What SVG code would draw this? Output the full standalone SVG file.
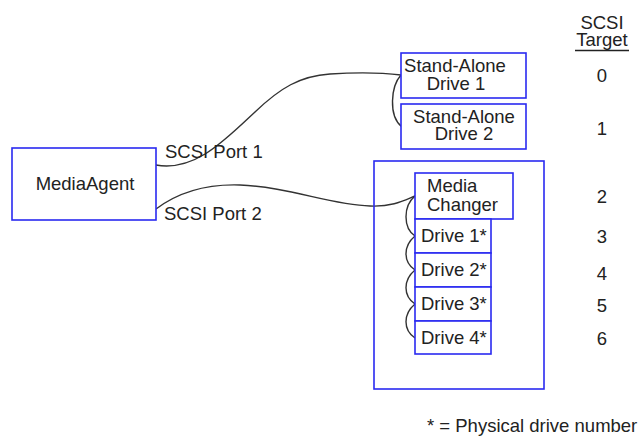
<svg xmlns="http://www.w3.org/2000/svg" width="640" height="439" viewBox="0 0 640 439">
<style>
.box{fill:#fff;stroke:#2a2af0;stroke-width:1.6}
.frame{fill:none;stroke:#2a2af0;stroke-width:1.6}
.t{font-family:"Liberation Sans",Arial,sans-serif;font-size:18.5px;fill:#222}
.m{text-anchor:middle}
.c{fill:none;stroke:#333;stroke-width:1.4}
</style>
<rect width="640" height="439" fill="#fff"/>
<g id="connectors">
<path class="c" d="M156,165 C195,172 225,140 255,112 C280,88 300,76 330,74 C360,72 385,73 401,75"/>
<path class="c" d="M401,75 C391,86 388,116 402,127"/>
<path class="c" d="M156,209 C180,191 210,184 240,185 C290,187 330,205 370,206 C393,207 405,200 415,196"/>
<path class="c" d="M415,196 C403,206 403,228 415,236"/>
<path class="c" d="M415,236 C403,246 403,262 415,270"/>
<path class="c" d="M415,270 C403,280 403,296 415,304"/>
<path class="c" d="M415,304 C403,314 403,330 415,338"/>
</g>
<g id="mediaagent">
<rect class="box" x="12" y="148" width="144" height="72"/>
<text class="t m" x="85" y="190">MediaAgent</text>
</g>
<g id="port-labels">
<text class="t" x="165" y="158">SCSI Port 1</text>
<text class="t" x="164" y="220">SCSI Port 2</text>
</g>
<g id="drive-sa1">
<rect class="box" x="401" y="53" width="125" height="45"/>
<text class="t m" x="455" y="72">Stand-Alone</text>
<text class="t m" x="456" y="90">Drive 1</text>
</g>
<g id="drive-sa2">
<rect class="box" x="401" y="104" width="125" height="45"/>
<text class="t m" x="464" y="123">Stand-Alone</text>
<text class="t m" x="464" y="140">Drive 2</text>
</g>
<g id="library">
<rect class="frame" x="374" y="161" width="170" height="228"/>
</g>
<g id="media-changer">
<rect class="box" x="415" y="173" width="98" height="46"/>
<text class="t" x="427" y="192">Media</text>
<text class="t" x="427" y="210.5">Changer</text>
</g>
<g id="drive1">
<rect class="box" x="415" y="219" width="76" height="34"/>
<text class="t" x="421" y="242">Drive 1*</text>
</g>
<g id="drive2">
<rect class="box" x="415" y="253" width="76" height="34"/>
<text class="t" x="421" y="275.5">Drive 2*</text>
</g>
<g id="drive3">
<rect class="box" x="415" y="287" width="76" height="34"/>
<text class="t" x="421" y="309.5">Drive 3*</text>
</g>
<g id="drive4">
<rect class="box" x="415" y="321" width="76" height="33"/>
<text class="t" x="421" y="343.5">Drive 4*</text>
</g>
<g id="targets">
<text class="t m" x="602" y="29">SCSI</text>
<text class="t m" x="602" y="45.5">Target</text>
<line x1="575" y1="50.5" x2="629" y2="50.5" stroke="#222" stroke-width="1.4"/>
<text class="t m" x="602" y="82">0</text>
<text class="t m" x="602" y="135">1</text>
<text class="t m" x="602" y="203">2</text>
<text class="t m" x="602" y="242.5">3</text>
<text class="t m" x="602" y="280">4</text>
<text class="t m" x="602" y="311.5">5</text>
<text class="t m" x="602" y="345">6</text>
</g>
<g id="footnote">
<text class="t" x="427" y="432">* = Physical drive number</text>
</g>
</svg>
